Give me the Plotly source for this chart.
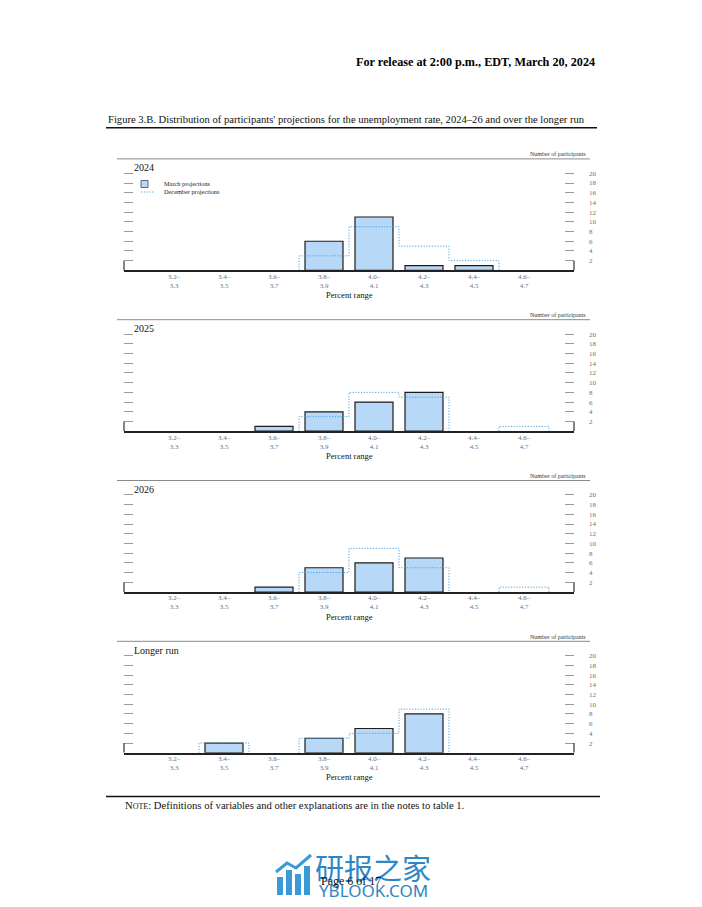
import plotly.graph_objects as go

W, H = 702, 907
SERIF = "Liberation Serif, DejaVu Serif, serif"

# ---------------- data ----------------
categories = ["3.2–3.3", "3.4–3.5", "3.6–3.7", "3.8–3.9",
              "4.0–4.1", "4.2–4.3", "4.4–4.5", "4.6–4.7"]
tick_labels = [c.replace("–", "–<br>") for c in categories]
panel_titles = ["2024", "2025", "2026", "Longer run"]

march_2024 = [0, 0, 0, 6, 11, 1, 1, 0]
december_2024 = [0, 0, 0, 3, 9, 5, 2, 0]
march_2025 = [0, 0, 1, 4, 6, 8, 0, 0]
december_2025 = [0, 0, 0, 3, 8, 7, 0, 1]
march_2026 = [0, 0, 1, 5, 6, 7, 0, 0]
december_2026 = [0, 0, 0, 4, 9, 5, 0, 1]
march_longer_run = [0, 2, 0, 3, 5, 8, 0, 0]
december_longer_run = [0, 2, 0, 3, 4, 9, 0, 0]

march_series = [march_2024, march_2025, march_2026, march_longer_run]
december_series = [december_2024, december_2025, december_2026, december_longer_run]
y_ticks = [2, 4, 6, 8, 10, 12, 14, 16, 18, 20]


def px(x):
    return x / W


def py(y):
    return 1 - y / H


def step_outline(vals):
    xs, ys = [], []
    i, n = 0, len(vals)
    while i < n:
        if vals[i] > 0:
            xs.append(i - 0.5); ys.append(0)
            j = i
            while j < n and vals[j] > 0:
                xs += [j - 0.5, j + 0.5]
                ys += [vals[j], vals[j]]
                j += 1
            xs.append(j - 0.5); ys.append(0)
            xs.append(None); ys.append(None)
            i = j
        else:
            i += 1
    return xs, ys


fig = go.Figure()
layout = {}
shapes = []
annotations = []

X0, X1 = 124, 574
UNIT = 4.855
BASE0, STEP = 270.4, 160.8
YMAX = 21

bar_fill = "#b7d8f6"
dec_color = "#4fa3da"
DOTS = "1.2px,1.6px"

for k in range(4):
    sfx = "" if k == 0 else str(k + 1)
    xa, ya = "x" + sfx, "y" + sfx
    base = BASE0 + STEP * k
    top = base - YMAX * UNIT
    xs, ys = step_outline(december_series[k])
    xidx = list(range(len(categories)))
    fig.add_trace(go.Scatter(x=xs, y=ys, mode="lines", xaxis=xa, yaxis=ya,
                             line=dict(color=dec_color, width=1, dash=DOTS),
                             showlegend=False, hoverinfo="skip"))
    fig.add_trace(go.Bar(x=xidx, y=[v if v > 0 else None for v in march_series[k]],
                         xaxis=xa, yaxis=ya, width=0.76,
                         marker=dict(color=bar_fill, line=dict(color="#1c1c1c", width=1.2)),
                         showlegend=False, customdata=categories))

    layout["xaxis" + sfx] = dict(
        domain=[px(X0), px(X1)], range=[-1, 8], anchor=ya,
        tickvals=xidx, ticktext=tick_labels, ticks="",
        showline=True, linecolor="#222", linewidth=1.8,
        showgrid=False, zeroline=False, ticklabelstandoff=-2,
        tickfont=dict(family=SERIF, size=7, color="#707070"),
    )
    layout["yaxis" + sfx] = dict(
        domain=[py(base), py(top)], range=[0, YMAX], anchor=xa,
        side="right", tickvals=y_ticks, ticks="inside", ticklen=9,
        tickwidth=1, tickcolor="#9a9a9a", mirror="ticks",
        showline=False, showgrid=False, zeroline=False,
        ticklabelstandoff=14,
        tickfont=dict(family=SERIF, size=7, color="#707070"),
    )
    for xd in (0, 1):
        shapes.append(dict(type="line", xref=xa + " domain", yref=ya,
                           x0=xd, x1=xd, y0=0, y1=2,
                           line=dict(color="#333", width=1.2)))
    rule_y = base - 111.5
    shapes.append(dict(type="line", xref="paper", yref="paper",
                       x0=px(117), x1=px(590), y0=py(rule_y), y1=py(rule_y),
                       line=dict(color="#8a8a8a", width=1)))
    annotations.append(dict(text="Number of participants", xref="paper", yref="paper",
                            x=px(588), y=py(rule_y - 4.5), xanchor="right", yanchor="middle",
                            showarrow=False, font=dict(family=SERIF, size=6, color="#333")))
    annotations.append(dict(text=panel_titles[k], xref="paper", yref="paper",
                            x=px(132), y=py(base - 102.5), xanchor="left", yanchor="middle",
                            showarrow=False, font=dict(family=SERIF, size=10, color="#111")))
    annotations.append(dict(text="Percent range", xref="paper", yref="paper",
                            x=px(349), y=py(base + 24.5), xanchor="center", yanchor="middle",
                            showarrow=False, font=dict(family=SERIF, size=8.5, color="#111")))

# legend (2024 panel)
shapes.append(dict(type="rect", xref="paper", yref="paper",
                   x0=px(141), x1=px(148), y0=py(187.5), y1=py(180.5),
                   fillcolor=bar_fill, line=dict(color="#445", width=0.8)))
shapes.append(dict(type="line", xref="paper", yref="paper",
                   x0=px(141), x1=px(155), y0=py(192), y1=py(192),
                   line=dict(color=dec_color, width=1, dash=DOTS)))
annotations.append(dict(text="March projections", xref="paper", yref="paper",
                        x=px(162), y=py(184), xanchor="left", yanchor="middle", showarrow=False,
                        font=dict(family=SERIF, size=6.3, color="#222")))
annotations.append(dict(text="December projections", xref="paper", yref="paper",
                        x=px(162), y=py(191.5), xanchor="left", yanchor="middle", showarrow=False,
                        font=dict(family=SERIF, size=6.3, color="#222")))

# page header / caption / note
annotations.append(dict(text="<b>For release at 2:00 p.m., EDT, March 20, 2024</b>",
                        xref="paper", yref="paper", x=px(597), y=py(61.5),
                        xanchor="right", yanchor="middle", showarrow=False,
                        font=dict(family=SERIF, size=12.2, color="#000")))
annotations.append(dict(text="Figure 3.B. Distribution of participants' projections for the unemployment rate, 2024–26 and over the longer run",
                        xref="paper", yref="paper", x=px(106), y=py(119.5),
                        xanchor="left", yanchor="middle", showarrow=False,
                        font=dict(family=SERIF, size=10.6, color="#111")))
shapes.append(dict(type="line", xref="paper", yref="paper",
                   x0=px(106), x1=px(597), y0=py(127.7), y1=py(127.7),
                   line=dict(color="#111", width=1.6)))
shapes.append(dict(type="line", xref="paper", yref="paper",
                   x0=px(106), x1=px(600), y0=py(796.5), y1=py(796.5),
                   line=dict(color="#111", width=1.6)))
annotations.append(dict(text="N<span style='font-size:8px'>OTE</span>: Definitions of variables and other explanations are in the notes to table 1.",
                        xref="paper", yref="paper", x=px(123), y=py(805.5),
                        xanchor="left", yanchor="middle", showarrow=False,
                        font=dict(family=SERIF, size=10.6, color="#111")))

# watermark
wm = "#2f86c6"
for (bx0, bx1, btop) in [(277, 283, 877), (286, 292, 870), (295, 301, 874), (304, 310, 866)]:
    shapes.append(dict(type="rect", xref="paper", yref="paper",
                       x0=px(bx0), x1=px(bx1), y0=py(895), y1=py(btop),
                       fillcolor="#3a9ad8", line=dict(width=0)))
shapes.append(dict(type="path", xref="paper", yref="paper",
                   path=f"M {px(276)} {py(872)} L {px(287)} {py(863)} L {px(296)} {py(868)} L {px(311)} {py(855)}",
                   line=dict(color="#3a9ad8", width=3)))
annotations.append(dict(text="研报之家", xref="paper", yref="paper", x=px(373), y=py(867),
                        xanchor="center", yanchor="middle", showarrow=False,
                        font=dict(family="Noto Sans CJK SC", size=29, color=wm)))
annotations.append(dict(text="YBLOOK.COM", xref="paper", yref="paper", x=px(373), y=py(890),
                        xanchor="center", yanchor="middle", showarrow=False,
                        font=dict(family="Noto Sans, DejaVu Sans", size=17, color=wm)))
annotations.append(dict(text="Page 6 of 17", xref="paper", yref="paper", x=px(351), y=py(881),
                        xanchor="center", yanchor="middle", showarrow=False,
                        font=dict(family=SERIF, size=12, color="#111")))

fig.update_layout(
    width=W, height=H, margin=dict(l=0, r=0, t=0, b=0),
    paper_bgcolor="white", plot_bgcolor="white",
    showlegend=False, barmode="overlay",
    shapes=shapes, annotations=annotations,
    font=dict(family=SERIF),
    **layout,
)
fig.write_html("out.html", config={"displayModeBar": False},
               post_script="document.body.style.margin='0';document.body.style.overflow='hidden';")
